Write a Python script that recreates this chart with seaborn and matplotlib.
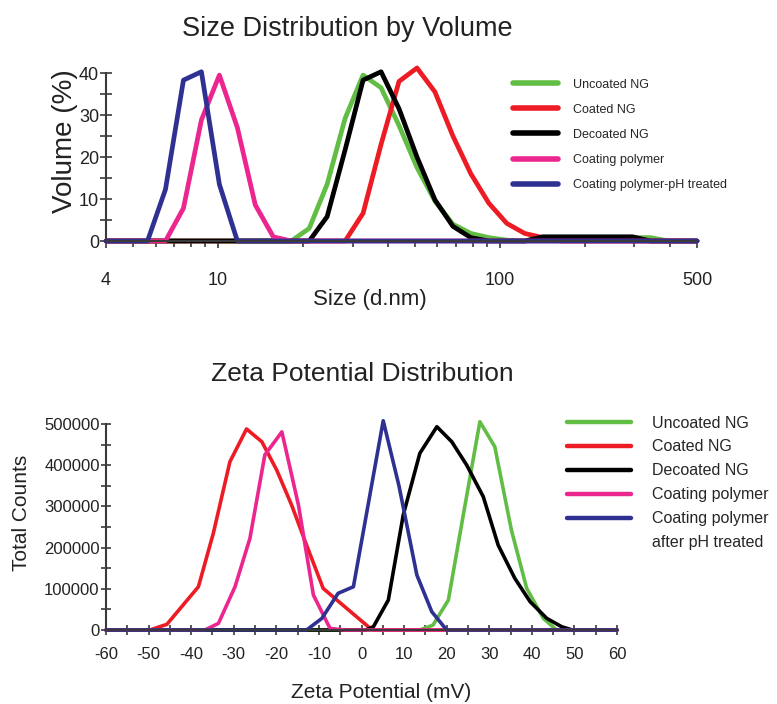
import matplotlib
matplotlib.use("Agg")
import matplotlib.pyplot as plt
from matplotlib.lines import Line2D
from matplotlib.ticker import FixedLocator, NullFormatter, MultipleLocator
import seaborn as sns

sns.set_style("ticks")
FONT = ["Liberation Sans", "DejaVu Sans"]
plt.rcParams["font.family"] = FONT
plt.rcParams["axes.unicode_minus"] = False

# ---- size distribution by volume (%), instrument size bins in d.nm ----
size_nm = [4.0, 4.849, 5.615, 6.503, 7.531, 8.721, 10.10, 11.70, 13.54, 15.69,
           18.17, 21.04, 24.36, 28.21, 32.67, 37.84, 43.82, 50.75, 58.77, 68.06,
           78.82, 91.28, 105.7, 122.4, 141.8, 164.2, 190.1, 220.2, 255.0, 295.3,
           342.0, 396.1, 458.7, 500.0]
uncoated_vol = [0, 0, 0, 0, 0, 0, 0, 0, 0, 0,
                0, 3.0, 13.5, 29.2, 39.5, 36.5, 27.5, 17.5, 9.5, 4.0,
                1.8, 0.8, 0.2, 0, 0.8, 0.8, 0.8, 0.8, 0.8, 0.8,
                0.8, 0, 0, 0]
coated_vol = [0, 0, 0, 0, 0, 0, 0, 0, 0, 0,
              0, 0, 0, 0, 6.6, 23.0, 38.0, 41.2, 35.5, 25.0,
              16.0, 9.0, 4.2, 1.8, 0.8, 0, 0, 0, 0, 0,
              0, 0, 0, 0]
decoated_vol = [0, 0, 0, 0, 0, 0, 0, 0, 0, 0,
                0, 0, 5.8, 21.7, 38.3, 40.3, 31.5, 20.0, 9.8, 3.5,
                0.8, 0, 0, 0, 1.0, 1.0, 1.0, 1.0, 1.0, 1.0,
                0, 0, 0, 0]
polymer_vol = [0, 0, 0, 0, 7.8, 28.8, 39.5, 27.0, 8.6, 1.0,
               0, 0, 0, 0, 0, 0, 0, 0, 0, 0,
               0, 0, 0, 0, 0, 0, 0, 0, 0, 0,
               0, 0, 0, 0]
polymer_ph_vol = [0, 0, 0, 12.3, 38.3, 40.3, 13.5, 0, 0, 0,
                  0, 0, 0, 0, 0, 0, 0, 0, 0, 0,
                  0, 0, 0, 0, 0, 0, 0, 0, 0, 0,
                  0, 0, 0, 0]

# ---- zeta potential distribution (total counts) ----
uncoated_mv = [-60, 13.7, 16.8, 20.4, 23.9, 27.8, 31.3, 35.2, 38.8, 42.7, 45.8, 60]
uncoated_cnt = [0, 0, 12000, 72800, 279000, 505600, 445000, 242700, 101000, 28300, 0, 0]
coated_mv = [-60, -49.7, -45.7, -38.3, -34.8, -30.9, -27.0, -23.4, -19.9, -16.4,
             -12.9, -9.0, 1.6, 3.0, 60]
coated_cnt = [0, 0, 13800, 105000, 234700, 408500, 488000, 457000, 388000, 303000,
              206000, 101000, 8000, 0, 0]
decoated_mv = [-60, 1.0, 2.8, 6.3, 9.8, 13.7, 17.7, 21.2, 24.7, 28.6, 32.1, 36.0,
               39.6, 43.5, 47.0, 49.5, 60]
decoated_cnt = [0, 0, 8000, 72800, 279000, 429000, 493500, 457000, 400500, 323500,
                206000, 125500, 68700, 28300, 8000, 0, 0]
polymer_mv = [-60, -36.8, -33.6, -29.7, -26.2, -22.7, -18.7, -14.8, -11.3, -7.4, -4.0, 60]
polymer_cnt = [0, 0, 16000, 105000, 222500, 425000, 481000, 303000, 85000, 4000, 0, 0]
polymer_ph_mv = [-60, -12.9, -9.3, -5.5, -1.9, 5.1, 8.8, 13.0, 16.5, 20.0, 60]
polymer_ph_cnt = [0, 0, 28300, 89000, 105000, 508000, 350000, 133500, 44500, 0, 0]

names_top = ["Uncoated NG", "Coated NG", "Decoated NG", "Coating polymer",
             "Coating polymer-pH treated"]
names_bottom = ["Uncoated NG", "Coated NG", "Decoated NG", "Coating polymer",
                "Coating polymer"]
extra_line_bottom = "after pH treated"
colors = ["#62BD45", "#ED1C24", "#000000", "#EC268F", "#2E3192"]

size_series = [uncoated_vol, coated_vol, decoated_vol, polymer_vol, polymer_ph_vol]
zeta_series = [(uncoated_mv, uncoated_cnt), (coated_mv, coated_cnt),
               (decoated_mv, decoated_cnt), (polymer_mv, polymer_cnt),
               (polymer_ph_mv, polymer_ph_cnt)]

W, H = 777, 704
fig = plt.figure(figsize=(W / 100, H / 100), dpi=100)
axis_col = "#3a3a3a"
text_col = "#222222"

def style_axes(ax):
    for s in ["top", "right"]:
        ax.spines[s].set_visible(False)
    for s in ["left", "bottom"]:
        ax.spines[s].set_color(axis_col)
        ax.spines[s].set_linewidth(1.5)
    ax.tick_params(which="both", colors=axis_col, width=1.2, labelcolor=text_col)

# ---------------- top: size distribution ----------------
ax1 = fig.add_axes([106 / W, (H - 241) / H, 591 / W, (241 - 64.6) / H])
for vals, c, lab in zip(size_series, colors, names_top):
    sns.lineplot(x=size_nm, y=vals, color=c, lw=3.4, label=lab, ax=ax1,
                 sort=False, errorbar=None, clip_on=False)
ax1.set_xscale("log")
ax1.set_xlim(4, 500)
ax1.set_ylim(0, 42)
ax1.spines["left"].set_bounds(0, 40)
style_axes(ax1)
ax1.xaxis.set_major_locator(FixedLocator([4, 10, 100, 500]))
ax1.xaxis.set_major_formatter(plt.FixedFormatter(["4", "10", "100", "500"]))
ax1.xaxis.set_minor_locator(FixedLocator([5, 6, 7, 8, 9, 20, 30, 40, 50, 60, 70, 80, 90,
                                          200, 300, 400]))
ax1.xaxis.set_minor_formatter(NullFormatter())
ax1.yaxis.set_major_locator(FixedLocator([0, 10, 20, 30, 40]))
ax1.yaxis.set_minor_locator(FixedLocator([5, 15, 25, 35]))
ax1.tick_params(axis="x", which="major", direction="out", length=5, pad=17, labelsize=13)
ax1.tick_params(axis="x", which="minor", direction="out", length=4)
ax1.tick_params(axis="y", which="both", direction="inout", length=8, pad=1, labelsize=13)
ax1.set_xlabel("")
ax1.set_ylabel("")
leg1 = ax1.legend(loc="upper left", bbox_to_anchor=(513 / W, 1 - 78.5 / H),
                  bbox_transform=fig.transFigure, frameon=False, borderpad=0,
                  borderaxespad=0, handlelength=3.6, handletextpad=1.2,
                  labelspacing=1.05, prop={"size": 9})
for ln in leg1.get_lines():
    ln.set_linewidth(4)

fig.text(347 / W, 1 - 29 / H, "Size Distribution by Volume", ha="center", va="center",
         fontsize=19.5, color=text_col)
fig.text(65 / W, 1 - 141 / H, "Volume (%)", rotation=90, ha="center", va="center",
         fontsize=20, color=text_col)
fig.text(370 / W, 1 - 299 / H, "Size (d.nm)", ha="center", va="center",
         fontsize=16, color=text_col)

# ---------------- bottom: zeta potential ----------------
ax2 = fig.add_axes([106 / W, 74 / H, 511 / W, (630 - 415.8) / H])
for (xs, ys), c, lab in zip(zeta_series, colors, names_bottom):
    sns.lineplot(x=xs, y=ys, color=c, lw=2.6, label=lab, ax=ax2,
                 sort=False, errorbar=None, clip_on=False)
ax2.set_xlim(-60, 60)
ax2.set_ylim(0, 520000)
ax2.spines["left"].set_bounds(0, 500000)
style_axes(ax2)
ax2.xaxis.set_major_locator(MultipleLocator(10))
ax2.xaxis.set_minor_locator(MultipleLocator(5))
ax2.yaxis.set_major_locator(FixedLocator([0, 100000, 200000, 300000, 400000, 500000]))
ax2.yaxis.set_minor_locator(FixedLocator([50000, 150000, 250000, 350000, 450000]))
ax2.yaxis.set_major_formatter(plt.FuncFormatter(lambda v, p: f"{int(v)}"))
ax2.tick_params(axis="x", which="both", direction="inout", length=7, pad=9, labelsize=12)
ax2.tick_params(axis="y", which="both", direction="inout", length=7, pad=1, labelsize=12)
ax2.set_xlabel("")
ax2.set_ylabel("")
handles2, labels2 = ax2.get_legend_handles_labels()
handles2.append(Line2D([], [], color="none"))
labels2.append(extra_line_bottom)
leg2 = ax2.legend(handles2, labels2, loc="upper left",
                  bbox_to_anchor=(567 / W, 1 - 415.5 / H),
                  bbox_transform=fig.transFigure, frameon=False, borderpad=0,
                  borderaxespad=0, handlelength=4.0, handletextpad=1.3,
                  labelspacing=0.56, prop={"size": 11.5})
for ln in leg2.get_lines():
    ln.set_linewidth(3.2)

fig.text(362 / W, 1 - 374 / H, "Zeta Potential Distribution", ha="center", va="center",
         fontsize=19, color=text_col)
fig.text(22 / W, 1 - 513 / H, "Total Counts", rotation=90, ha="center", va="center",
         fontsize=15, color=text_col)
fig.text(381 / W, 1 - 693 / H, "Zeta Potential (mV)", ha="center", va="center",
         fontsize=15, color=text_col)

fig.savefig("out.png", dpi=100)
